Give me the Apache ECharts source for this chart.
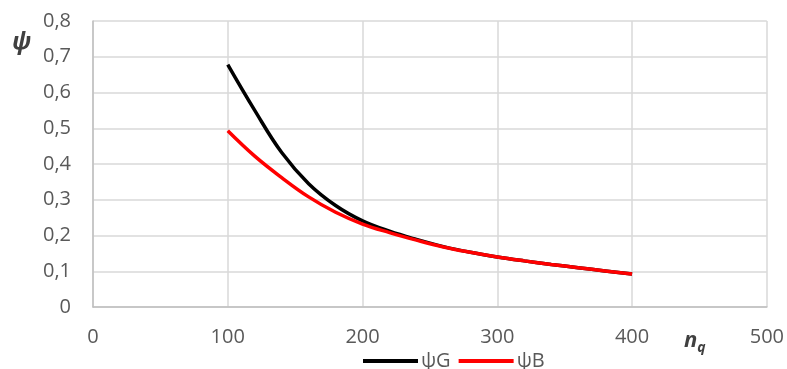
<!DOCTYPE html>
<html><head><meta charset="utf-8">
<script src="https://cdn.jsdelivr.net/npm/echarts@6/dist/echarts.min.js"></script>
<style>html,body{margin:0;padding:0;background:#fff}#c{width:787px;height:369px}</style>
</head><body><div id="c"></div>
<script>
const nq =   [100,   120,   140,   160,   180,   200,   220,   240,   260,   280,   300,   320,   340,   360,   380,   400];
const psiG = [0.678, 0.550, 0.432, 0.345, 0.284, 0.241, 0.212, 0.189, 0.169, 0.153, 0.140, 0.129, 0.119, 0.110, 0.101, 0.092];
const psiB = [0.493, 0.422, 0.362, 0.308, 0.265, 0.232, 0.208, 0.187, 0.168, 0.153, 0.140, 0.129, 0.119, 0.110, 0.101, 0.092];
const xTicks = [0, 100, 200, 300, 400, 500];
const yTicks = [0, 0.1, 0.2, 0.3, 0.4, 0.5, 0.6, 0.7, 0.8];

const font = 'Open Sans';
const chart = echarts.init(document.getElementById('c'));
chart.setOption({
  animation: false,
  grid: {left: 93, right: 20, top: 21, bottom: 62, containLabel: false},
  xAxis: {type: 'value', min: 0, max: 500, interval: 100,
    axisLine: {show: true, lineStyle: {color: '#bfbfbf', width: 1.5}},
    axisTick: {show: false},
    splitLine: {show: true, lineStyle: {color: '#d9d9d9', width: 1.5}},
    axisLabel: {color: '#595959', fontFamily: font, fontSize: 20, margin: 20,
      formatter: v => String(v)}},
  yAxis: {type: 'value', min: 0, max: 0.8, interval: 0.1,
    axisLine: {show: true, lineStyle: {color: '#bfbfbf', width: 1.5}},
    axisTick: {show: false},
    splitLine: {show: true, lineStyle: {color: '#d9d9d9', width: 1.5}},
    axisLabel: {color: '#595959', fontFamily: font, fontSize: 20, margin: 22,
      formatter: v => v === 0 ? '0' : v.toFixed(1).replace('.', ',')}},
  legend: {left: 358, top: 346, itemWidth: 55, itemHeight: 4, itemGap: 8, icon: 'rect',
    textStyle: {color: '#595959', fontFamily: font, fontSize: 20, padding: [0, 0, 0, -2]},
    data: ['ψG', 'ψB']},
  series: [
    {name: 'ψG', type: 'line', smooth: 0.4, showSymbol: false, symbol: 'none',
      data: nq.map((x, i) => [x, psiG[i]]),
      lineStyle: {color: '#000000', width: 3.5}, itemStyle: {color: '#000000'}},
    {name: 'ψB', type: 'line', smooth: 0.4, showSymbol: false, symbol: 'none',
      data: nq.map((x, i) => [x, psiB[i]]),
      lineStyle: {color: '#ff0000', width: 3.5}, itemStyle: {color: '#ff0000'}}
  ],
  graphic: [
    {type: 'text', left: 12, top: 30, style: {text: 'ψ', font: 'italic bold 24px "Open Sans"', fill: '#404040'}},
    {type: 'text', left: 684, top: 330, style: {
      text: '{n|n}{q|q}', rich: {
        n: {font: 'italic bold 22px "Open Sans"', fill: '#404040'},
        q: {font: 'italic bold 14px "Open Sans"', fill: '#404040', padding: [14, 0, 0, 0]}}}}
  ]
});
</script></body></html>
